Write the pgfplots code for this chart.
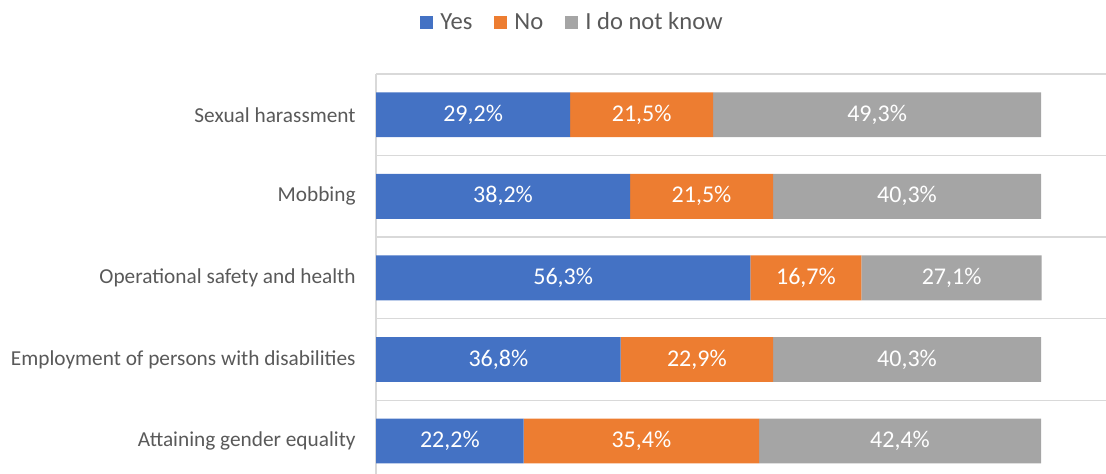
\documentclass[border=0pt]{standalone}
\usepackage{pgfplots}
\pgfplotsset{compat=1.18}
\usepackage{fontspec}
\setmainfont{Carlito}
\definecolor{cblue}{HTML}{4472C4}
\definecolor{corange}{HTML}{ED7D31}
\definecolor{cgray}{HTML}{A5A5A5}
\definecolor{ctext}{HTML}{595959}
\definecolor{cgrid}{HTML}{D9D9D9}
\begin{document}
\begin{tikzpicture}
\useasboundingbox (0,0) rectangle (553pt,237pt);
\begin{axis}[
  at={(188pt,0pt)}, anchor=south west,
  scale only axis, width=365pt, height=200pt,
  xbar stacked, bar width=0.55,
  xmin=0, xmax=109.77, ymin=-0.404, ymax=4.5,
  axis x line=none, axis y line*=left,
  y axis line style={draw=cgrid, line width=0.75pt},
  ytick={0,1,2,3,4},
  yticklabels={Attaining gender equality,Employment of persons with disabilities,Operational safety and health,Mobbing,Sexual harassment},
  minor ytick={0.5,1.5,2.5,3.5,4.5},
  ymajorgrids=false, yminorgrids=true,
  minor grid style={draw=cgrid, line width=0.75pt},
  major tick length=0pt, minor tick length=0pt,
  yticklabel style={font=\fontsize{10.65}{13}\selectfont, text=ctext, inner sep=0pt, xshift=-10pt},
  legend style={at={(0.27,1.128)}, anchor=center, draw=none, fill=none,
    legend columns=-1, font=\fontsize{12.3}{14}\selectfont, text=ctext,
    nodes={inner sep=1.5pt},
    /tikz/every even column/.append style={column sep=9.5pt}},
  legend image code/.code={\fill[#1] (0pt,-3.25pt) rectangle (6.5pt,3.25pt); \path (8.5pt,0pt);},
  clip=false,
]
\addplot[fill=cblue, draw=none] coordinates {(22.2,0) (36.8,1) (56.3,2) (38.2,3) (29.2,4)};
\addplot[fill=corange, draw=none] coordinates {(35.4,0) (22.9,1) (16.7,2) (21.5,3) (21.5,4)};
\addplot[fill=cgray, draw=none] coordinates {(42.4,0) (40.3,1) (27.1,2) (40.3,3) (49.3,4)};
\legend{Yes,No,I do not know}
\end{axis}
\begin{axis}[
  at={(188pt,0pt)}, anchor=south west,
  scale only axis, width=365pt, height=200pt,
  xmin=0, xmax=109.77, ymin=-0.404, ymax=4.5,
  axis lines=none,
  clip=false,
  nodes near coords, point meta=explicit symbolic,
  every node near coord/.style={anchor=center, text=white, font=\fontsize{12}{14}\selectfont},
]
\addplot[only marks, mark=none] table[meta=lab] {
x y lab
14.6 4 29,2\%
39.95 4 21,5\%
75.35 4 49,3\%
19.1 3 38,2\%
48.95 3 21,5\%
79.85 3 40,3\%
28.15 2 56,3\%
64.65 2 16,7\%
86.55 2 27,1\%
18.4 1 36,8\%
48.25 1 22,9\%
79.85 1 40,3\%
11.1 0 22,2\%
39.9 0 35,4\%
78.8 0 42,4\%
};
\end{axis}
\end{tikzpicture}
\end{document}
